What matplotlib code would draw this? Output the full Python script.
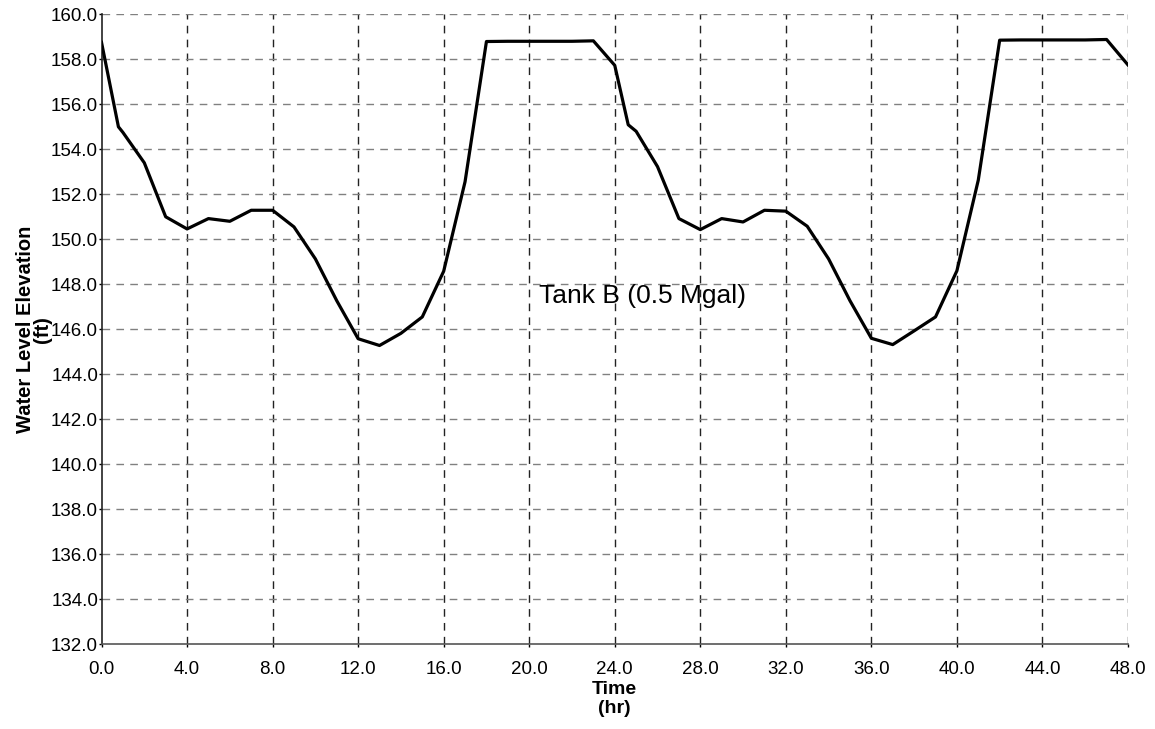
import matplotlib
matplotlib.use("Agg")
import matplotlib.pyplot as plt
from matplotlib.ticker import FormatStrFormatter, MultipleLocator

plt.rcParams['font.family'] = ['Liberation Sans', 'DejaVu Sans']

time_hr = [0, 0.79, 1, 2, 3, 4, 5, 6, 7, 8, 9, 10, 11, 12, 13, 14, 15, 16, 17,
           18, 19, 20, 21, 22, 23, 24, 24.63, 25, 26, 27, 28, 29, 30, 31, 32,
           33, 34, 35, 36, 37, 38, 39, 40, 41, 42, 43, 44, 45, 46, 47, 48]
level_ft = [158.75, 155.0, 154.75, 153.4, 151.0, 150.46, 150.92, 150.8, 151.29,
            151.29, 150.55, 149.13, 147.27, 145.58, 145.28, 145.82, 146.55,
            148.58, 152.56, 158.79, 158.80, 158.80, 158.80, 158.80, 158.82,
            157.73, 155.09, 154.8, 153.23, 150.92, 150.43, 150.92, 150.77,
            151.29, 151.25, 150.58, 149.13, 147.27, 145.6, 145.32, 145.93,
            146.55, 148.6, 152.63, 158.85, 158.86, 158.86, 158.86, 158.86,
            158.88, 157.75]

annotation = "Tank B (0.5 Mgal)"
xlabel = "Time\n(hr)"
ylabel = "Water Level Elevation\n(ft)"

fig = plt.figure(figsize=(11.55, 7.29), dpi=100)
ax = fig.add_axes([0.0879, 0.1162, 0.9766 - 0.0879, 0.9804 - 0.1162])

ax.set_xlim(0, 48)
ax.set_ylim(132, 160)
ax.xaxis.set_major_locator(MultipleLocator(4))
ax.yaxis.set_major_locator(MultipleLocator(2))
ax.xaxis.set_major_formatter(FormatStrFormatter('%.1f'))
ax.yaxis.set_major_formatter(FormatStrFormatter('%.1f'))

# grid
for x in range(4, 49, 4):
    ax.axvline(x, color='#222222', lw=1.0, linestyle=(0, (5.5, 4.5)), zorder=1)
for y in range(134, 161, 2):
    ax.axhline(y, color='#808080', lw=1.0, linestyle=(0, (5.5, 4.5)), zorder=1)

ax.plot(time_hr, level_ft, color='black', lw=2.3, zorder=3)

ax.text(25.3, 147.5, annotation, fontsize=19, ha='center', va='center', zorder=4)

for s in ['top', 'right']:
    ax.spines[s].set_visible(False)
ax.spines['left'].set_color('#222222')
ax.spines['bottom'].set_color('#555555')
ax.spines['left'].set_linewidth(1.2)
ax.spines['bottom'].set_linewidth(1.2)

ax.tick_params(axis='both', labelsize=13.5, length=2, width=1, colors='black')
ax.tick_params(axis='x', pad=10)
ax.tick_params(axis='y', pad=0.5)

ax.set_xlabel(xlabel, fontsize=14, fontweight='bold', linespacing=1.2)
ax.set_ylabel(ylabel, fontsize=14.5, fontweight='bold', linespacing=0.9)
ax.xaxis.set_label_coords(0.5, -0.058)
ax.yaxis.set_label_coords(-0.048, 0.5)

fig.savefig("out.png", dpi=100)
